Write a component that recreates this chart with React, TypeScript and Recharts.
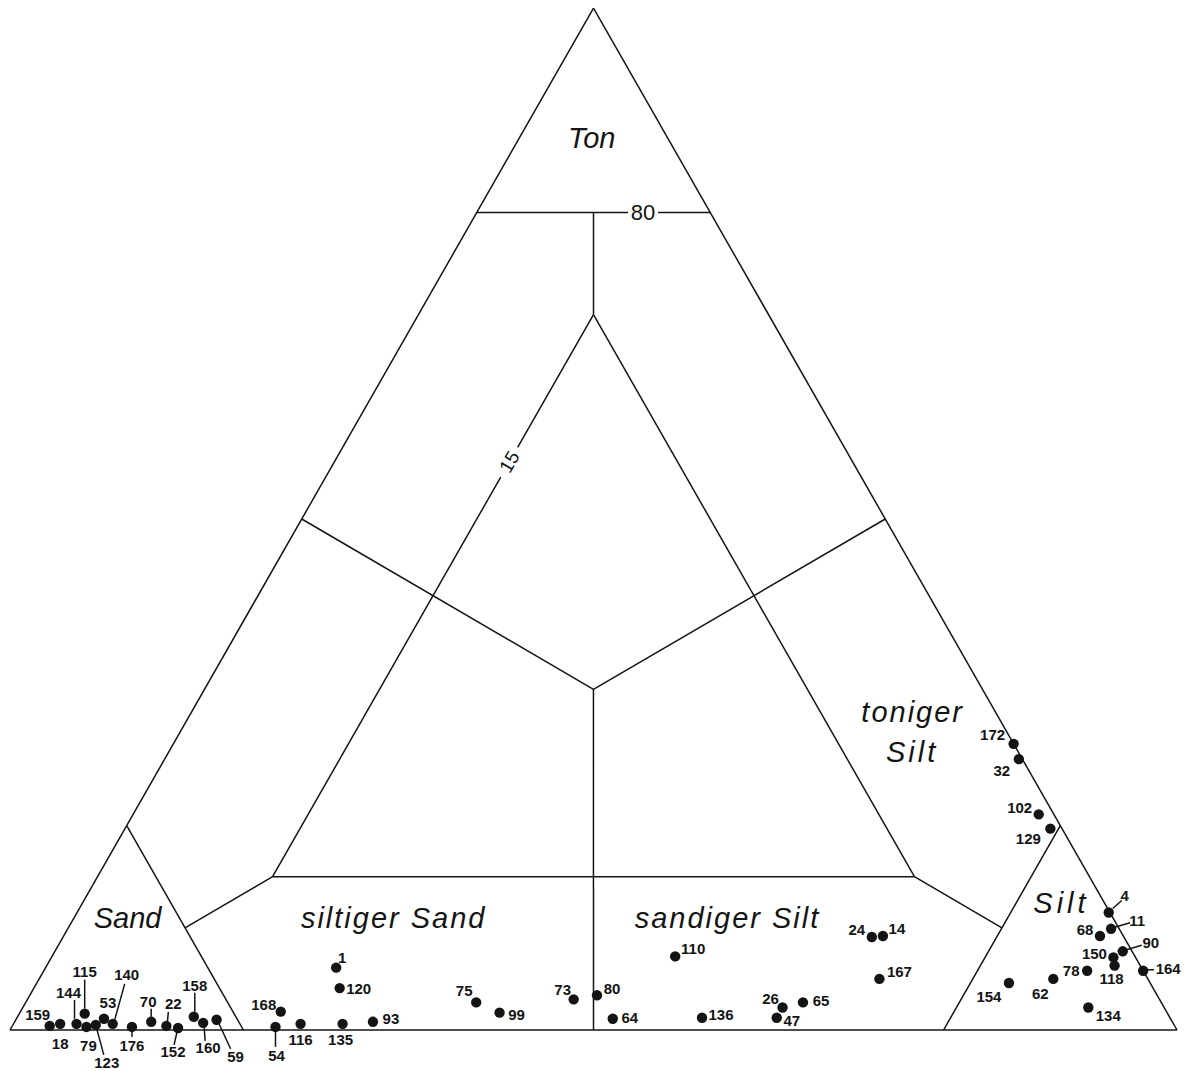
import React from 'react';
import { ScatterChart, Scatter, XAxis, YAxis, ReferenceLine } from 'recharts';

// ---- sample data (ternary percentages: Ton = clay, Silt; Sand = 100 - Ton - Silt)
const sampleIds = [159, 18, 144, 115, 79, 123, 53, 140, 176, 70, 22, 152, 158, 160, 59, 1, 120, 168, 54, 116, 135, 93, 75, 99, 73, 80, 64, 110, 136, 26, 47, 65, 24, 14, 167, 172, 32, 102, 129, 4, 11, 68, 90, 150, 118, 164, 78, 62, 154, 134];
const tonPct = [0.4, 0.6, 0.6, 1.6, 0.3, 0.5, 1.1, 0.6, 0.3, 0.8, 0.4, 0.2, 1.3, 0.7, 1.0, 6.1, 4.1, 1.8, 0.3, 0.6, 0.6, 0.8, 2.7, 1.7, 3.0, 3.4, 1.1, 7.2, 1.2, 2.2, 1.2, 2.7, 9.1, 9.2, 5.0, 28.0, 26.5, 21.1, 19.7, 11.5, 9.9, 9.2, 7.7, 7.1, 6.3, 5.8, 5.8, 5.0, 4.6, 2.2];
const siltPct = [3.2, 4.0, 5.4, 5.6, 6.4, 7.1, 7.5, 8.5, 10.3, 11.7, 13.2, 14.3, 15.1, 16.2, 17.2, 24.9, 26.2, 22.3, 22.6, 24.6, 28.2, 30.7, 38.6, 41.1, 46.8, 48.6, 51.1, 53.4, 58.7, 65.1, 65.1, 66.6, 69.3, 70.2, 72.0, 72.0, 73.2, 77.6, 79.3, 88.4, 89.4, 88.8, 91.5, 91.0, 91.5, 94.2, 89.4, 86.9, 83.3, 91.3];

// ---- classification boundaries, as [Ton, Silt] vertices
const boundaryLines: [number, number][][] = [
  [[0, 0], [0, 100]],
  [[0, 0], [100, 0]],
  [[0, 100], [100, 0]],
  [[80, 0], [80, 12.96]],
  [[80, 15.53], [80, 20]],
  [[80, 10], [70, 15]],
  [[70, 15], [57.0, 15]],
  [[54.1, 15], [15, 15]],
  [[15, 15], [15, 70]],
  [[15, 70], [70, 15]],
  [[50, 0], [33.33, 33.33]],
  [[50, 50], [33.33, 33.33]],
  [[33.33, 33.33], [0, 50]],
  [[20, 0], [0, 20]],
  [[20, 80], [0, 80]],
  [[15, 15], [10, 10]],
  [[15, 70], [10, 80]],
];

// ---- region names
const regionNames = ['Ton', 'Sand', 'siltiger Sand', 'sandiger Silt', 'toniger', 'Silt', 'Silt'];
const regionTon = [87.3, 10.96, 10.96, 10.96, 31.1, 27.2, 12.4];
const regionSilt = [6.2, 4.6, 27.4, 56.0, 61.8, 63.7, 83.9];
const regionSpacing = [0, 0, 2, 2, 2, 3, 4];

// ---- boundary value labels
const valueLabels = ['80', '15'];
const valueTon = [80, 55.6];
const valueSilt = [14.25, 15];
const valueAngle = [0, -60];
const valueSize = [22, 19];

// ---- label placement (pixel offsets from the dot)
type Lay = { dx: number; dy: number; leader?: [number, number, number, number] };
const labelPlacement: Record<number, Lay> = {
  159: { dx: -12, dy: -11 },
  18: { dx: 0, dy: 20 },
  144: { dx: -8, dy: -31, leader: [-2, -5, -2, -24] },
  115: { dx: 0, dy: -42, leader: [0, -5, 0, -34] },
  79: { dx: 2, dy: 19 },
  123: { dx: 11, dy: 38, leader: [1, 4, 8, 30] },
  53: { dx: 4, dy: -16 },
  140: { dx: 14, dy: -49, leader: [2, -4, 12, -40] },
  176: { dx: 0, dy: 19, leader: [0, 3, 0, 10] },
  70: { dx: -3, dy: -20, leader: [0, -5, 0, -13] },
  22: { dx: 7, dy: -22, leader: [1, -4, 2, -14] },
  152: { dx: -5, dy: 24, leader: [-1, 4, -4, 17] },
  158: { dx: 1, dy: -31, leader: [1, -5, 1, -24] },
  160: { dx: 5, dy: 25, leader: [1, 4, 2, 18] },
  59: { dx: 19, dy: 37, leader: [2, 3, 14, 29] },
  1: { dx: 6, dy: -10 },
  120: { dx: 19, dy: 0 },
  168: { dx: -17, dy: -7 },
  54: { dx: 1, dy: 29, leader: [0, 1, 0, 20] },
  116: { dx: 0, dy: 16 },
  135: { dx: -2, dy: 16 },
  93: { dx: 18, dy: -3 },
  75: { dx: -12, dy: -12 },
  99: { dx: 17, dy: 2 },
  73: { dx: -11, dy: -10 },
  80: { dx: 15, dy: -7 },
  64: { dx: 17, dy: -1 },
  110: { dx: 18, dy: -8 },
  136: { dx: 19, dy: -3 },
  26: { dx: -12, dy: -9 },
  47: { dx: 15, dy: 3 },
  65: { dx: 18, dy: -2 },
  24: { dx: -15, dy: -7 },
  14: { dx: 14, dy: -7 },
  167: { dx: 20, dy: -7 },
  172: { dx: -21, dy: -9 },
  32: { dx: -17, dy: 11 },
  102: { dx: -19, dy: -7 },
  129: { dx: -22, dy: 10 },
  4: { dx: 16, dy: -17, leader: [4, -4, 13, -12] },
  11: { dx: 26, dy: -8, leader: [2, -1, 19, -6] },
  68: { dx: -15, dy: -6 },
  90: { dx: 28, dy: -9, leader: [2, -1, 19, -6] },
  150: { dx: -19, dy: -4 },
  118: { dx: -3, dy: 13 },
  164: { dx: 25, dy: -2, leader: [2, -1, 11, -1] },
  78: { dx: -16, dy: 0 },
  62: { dx: -13, dy: 15 },
  154: { dx: -20, dy: 14 },
  134: { dx: 20, dy: 8 },
};

const H3 = Math.sqrt(3) / 2;
const toXY = (ton: number, silt: number) => ({ x: silt + ton / 2, y: ton * H3 });

const W = 1190;
const H = 1071;
const X_DOMAIN: [number, number] = [-0.8569, 101.114];
const Y_DOMAIN: [number, number] = [-3.4743, 87.281];

const samples = sampleIds.map((id, i) => ({ id, ...toXY(tonPct[i], siltPct[i]), sand: 100 - tonPct[i] - siltPct[i] }));
const regions = regionNames.map((name, i) => ({ name, sp: regionSpacing[i], ...toXY(regionTon[i], regionSilt[i]) }));
const values = valueLabels.map((name, i) => ({ name, angle: valueAngle[i], size: valueSize[i], ...toXY(valueTon[i], valueSilt[i]) }));

const INK = '#141414';
const FONT = 'Liberation Sans, Arial, sans-serif';

const SampleShape = (props: any) => {
  const { cx, cy, payload } = props;
  const lay = labelPlacement[payload.id] || { dx: 0, dy: -14 };
  return (
    <g>
      <circle cx={cx} cy={cy} r={5.2} fill={INK} />
      {lay.leader && (
        <line x1={cx + lay.leader[0]} y1={cy + lay.leader[1]} x2={cx + lay.leader[2]} y2={cy + lay.leader[3]} stroke={INK} strokeWidth={1.5} />
      )}
      <text x={cx + lay.dx} y={cy + lay.dy} textAnchor="middle" dominantBaseline="central" fontFamily={FONT} fontSize={15} fontWeight="bold" fill={INK}>
        {payload.id}
      </text>
    </g>
  );
};

const RegionShape = (props: any) => {
  const { cx, cy, payload } = props;
  return (
    <text x={cx} y={cy} textAnchor="middle" dominantBaseline="central" fontFamily={FONT} fontStyle="italic" fontSize={29} letterSpacing={payload.sp} fill={INK}>
      {payload.name}
    </text>
  );
};

const ValueShape = (props: any) => {
  const { cx, cy, payload } = props;
  return (
    <text x={cx} y={cy} textAnchor="middle" dominantBaseline="central" fontFamily={FONT} fontSize={payload.size} fill={INK} transform={payload.angle ? `rotate(${payload.angle} ${cx} ${cy})` : undefined}>
      {payload.name}
    </text>
  );
};

export default function App() {
  return (
    <div style={{ position: 'absolute', left: 0, top: 0, width: W, height: H, background: '#fff' }}>
      <ScatterChart width={W} height={H} margin={{ top: 0, right: 0, bottom: 0, left: 0 }}>
        <XAxis type="number" dataKey="x" domain={X_DOMAIN} allowDataOverflow hide />
        <YAxis type="number" dataKey="y" domain={Y_DOMAIN} allowDataOverflow hide />
        {boundaryLines.map((seg, i) => {
          const a = toXY(seg[0][0], seg[0][1]);
          const b = toXY(seg[1][0], seg[1][1]);
          return <ReferenceLine key={i} segment={[a, b]} stroke={INK} strokeWidth={1.5} ifOverflow="visible" />;
        })}
        <Scatter data={regions} shape={RegionShape} isAnimationActive={false} />
        <Scatter data={values} shape={ValueShape} isAnimationActive={false} />
        <Scatter data={samples} shape={SampleShape} isAnimationActive={false} />
      </ScatterChart>
    </div>
  );
}
